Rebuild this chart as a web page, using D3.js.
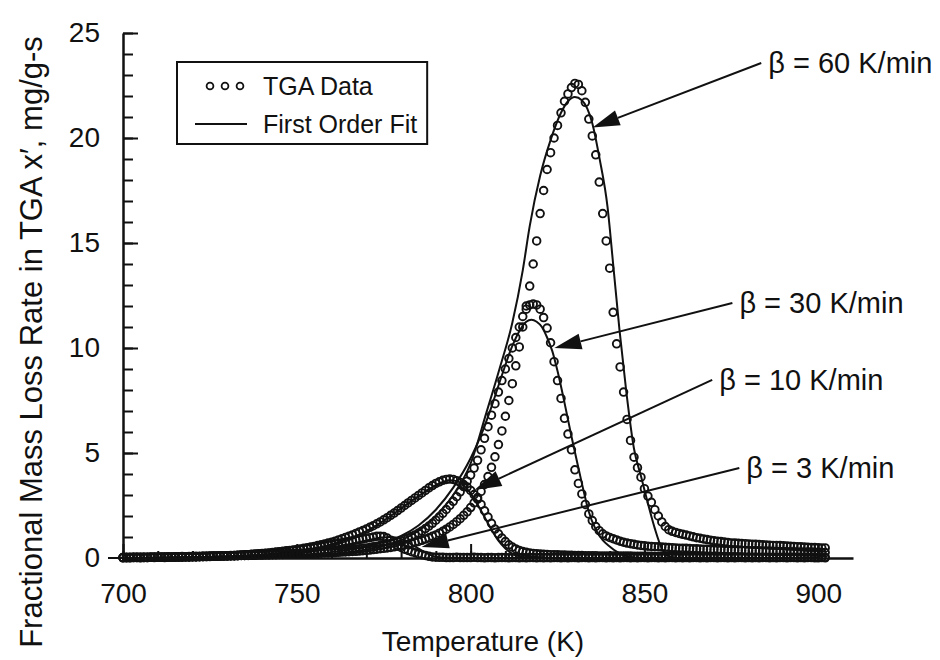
<!DOCTYPE html>
<html><head><meta charset="utf-8">
<script src="https://cdn.jsdelivr.net/npm/d3@7"></script>
<style>
body{margin:0;background:#fff}
text{font-family:"Liberation Sans",Arial,Helvetica,sans-serif;fill:#111}
</style>
</head><body>
<svg id="chart" width="940" height="660"></svg>
<script>
// ---------------- DATA ----------------
// TGA data sampled every 1 K starting at 700 K (values in mg/g-s)
const sampleStartK = 700;
const sampleStepK = 1;

const tga3 = [
0.02,0.01,0.02,0.03,0.02,0.02,0.03,0.02,0.03,0.03,
0.03,0.04,0.03,0.04,0.04,0.05,0.04,0.05,0.05,0.06,
0.06,0.06,0.07,0.07,0.08,0.08,0.09,0.09,0.1,0.1,
0.11,0.12,0.12,0.13,0.14,0.15,0.16,0.17,0.18,0.19,
0.2,0.22,0.23,0.25,0.26,0.28,0.3,0.32,0.34,0.36,
0.38,0.4,0.42,0.45,0.47,0.5,0.52,0.55,0.58,0.61,
0.64,0.67,0.7,0.73,0.76,0.79,0.82,0.85,0.88,0.91,
0.94,0.97,1.0,1.03,1.04,1.02,0.95,0.85,0.72,0.6,
0.5,0.42,0.36,0.3,0.25,0.2,0.16,0.12,0.08,0.05,
0.04,0.03,0.03,0.02,0.02,0.02,0.03,0.02,0.02,0.02,
0.02,0.03,0.02,0.02,0.01,0.02,0.02,0.01,0.02,0.02,
0.02,0.01,0.02,0.02,0.01,0.02,0.01,0.02,0.02,0.01,
0.02,0.01,0.02,0.01,0.02,0.02,0.01,0.02,0.01,0.02,
0.02,0.01,0.02,0.02,0.01,0.02,0.01,0.02,0.02,0.01,
0.02,0.01,0.02,0.01,0.02,0.02,0.01,0.02,0.01,0.02,
0.02,0.01,0.02,0.02,0.01,0.02,0.01,0.02,0.02,0.01,
0.02,0.01,0.02,0.01,0.02,0.02,0.01,0.02,0.01,0.02,
0.02,0.01,0.02,0.02,0.01,0.02,0.01,0.02,0.02,0.01,
0.02,0.01,0.02,0.01,0.02,0.02,0.01,0.02,0.01,0.02,
0.02,0.01,0.02,0.02,0.01,0.02,0.01,0.02,0.02,0.01,
0.01,0.02,0.01
];

const tga10 = [
0.01,0.02,0.01,0.02,0.02,0.01,0.02,0.02,0.03,0.02,
0.03,0.03,0.02,0.03,0.04,0.03,0.04,0.04,0.05,0.04,
0.05,0.05,0.06,0.06,0.07,0.07,0.08,0.08,0.09,0.1,
0.1,0.11,0.12,0.13,0.14,0.15,0.16,0.18,0.19,0.2,
0.21,0.23,0.24,0.26,0.28,0.3,0.32,0.34,0.36,0.38,
0.4,0.43,0.46,0.49,0.52,0.55,0.59,0.63,0.67,0.71,
0.75,0.8,0.86,0.92,0.98,1.04,1.1,1.17,1.24,1.31,
1.38,1.46,1.54,1.63,1.72,1.82,1.92,2.03,2.14,2.26,
2.38,2.5,2.62,2.74,2.86,2.98,3.1,3.22,3.34,3.45,
3.55,3.63,3.7,3.74,3.76,3.74,3.68,3.6,3.5,3.38,
3.22,3.02,2.8,2.55,2.25,1.95,1.65,1.38,1.15,0.95,
0.78,0.63,0.52,0.43,0.36,0.31,0.27,0.24,0.22,0.2,
0.19,0.18,0.17,0.16,0.15,0.15,0.14,0.14,0.13,0.13,
0.12,0.12,0.12,0.11,0.11,0.11,0.11,0.1,0.1,0.1,
0.1,0.1,0.09,0.09,0.09,0.09,0.09,0.08,0.08,0.08,
0.08,0.08,0.08,0.07,0.07,0.07,0.07,0.07,0.07,0.07,
0.06,0.06,0.06,0.06,0.06,0.06,0.06,0.06,0.05,0.05,
0.05,0.05,0.05,0.05,0.05,0.05,0.05,0.05,0.05,0.04,
0.04,0.04,0.04,0.04,0.04,0.04,0.04,0.04,0.04,0.04,
0.04,0.04,0.04,0.04,0.03,0.03,0.03,0.03,0.03,0.03,
0.03,0.03,0.03
];

const tga30 = [
0.02,0.02,0.03,0.02,0.03,0.03,0.02,0.03,0.04,0.03,
0.04,0.04,0.05,0.04,0.05,0.05,0.06,0.05,0.06,0.06,
0.07,0.06,0.07,0.08,0.07,0.08,0.09,0.08,0.09,0.1,
0.1,0.11,0.1,0.11,0.12,0.12,0.13,0.13,0.14,0.15,
0.15,0.16,0.16,0.17,0.18,0.18,0.19,0.2,0.2,0.21,
0.22,0.23,0.23,0.24,0.25,0.26,0.27,0.28,0.29,0.3,
0.31,0.32,0.33,0.35,0.36,0.38,0.4,0.42,0.44,0.46,
0.48,0.5,0.53,0.56,0.59,0.62,0.65,0.69,0.73,0.78,
0.83,0.89,0.95,1.02,1.1,1.19,1.29,1.4,1.52,1.65,
1.8,1.96,2.13,2.31,2.5,2.7,2.92,3.15,3.4,3.66,
3.95,4.28,4.65,5.15,5.7,6.25,6.8,7.35,7.9,8.45,
9.0,9.5,10.0,10.5,11.0,11.5,11.85,12.05,12.1,12.05,
11.85,11.45,10.95,10.25,9.35,8.45,7.6,6.65,5.9,5.15,
4.2,3.55,3.05,2.55,2.1,1.78,1.5,1.3,1.15,1.05,
0.98,0.92,0.86,0.8,0.75,0.71,0.68,0.65,0.62,0.6,
0.58,0.56,0.55,0.54,0.53,0.52,0.51,0.5,0.49,0.48,
0.47,0.46,0.46,0.45,0.44,0.44,0.43,0.42,0.42,0.41,
0.4,0.4,0.39,0.39,0.38,0.38,0.37,0.37,0.36,0.36,
0.35,0.35,0.34,0.34,0.33,0.33,0.33,0.32,0.32,0.31,
0.31,0.3,0.3,0.3,0.29,0.29,0.28,0.28,0.28,0.27,
0.27,0.26,0.26
];

const tga60 = [
0.02,0.03,0.02,0.03,0.03,0.04,0.03,0.04,0.04,0.05,
0.04,0.05,0.05,0.06,0.05,0.06,0.06,0.07,0.06,0.07,
0.07,0.08,0.07,0.08,0.08,0.09,0.08,0.09,0.09,0.1,
0.1,0.1,0.11,0.11,0.12,0.12,0.12,0.13,0.13,0.14,
0.14,0.15,0.15,0.16,0.16,0.17,0.17,0.18,0.18,0.19,
0.19,0.2,0.2,0.21,0.21,0.22,0.22,0.23,0.24,0.24,
0.25,0.26,0.27,0.28,0.29,0.3,0.31,0.32,0.33,0.35,
0.36,0.38,0.4,0.42,0.44,0.46,0.48,0.5,0.53,0.56,
0.59,0.62,0.66,0.7,0.74,0.79,0.84,0.9,0.96,1.03,
1.1,1.18,1.27,1.37,1.48,1.6,1.73,1.87,2.03,2.2,
2.4,2.63,2.88,3.17,3.5,3.88,4.32,4.82,5.4,6.05,
6.75,7.5,8.3,9.15,10.05,11.0,12.0,12.95,14.0,15.1,
16.4,17.5,18.5,19.3,20.0,20.6,21.2,21.75,22.1,22.4,
22.6,22.55,22.25,21.7,20.9,20.1,19.2,17.9,16.4,15.1,
13.8,11.7,10.2,9.1,7.9,6.6,5.6,4.8,4.3,3.85,
3.3,2.95,2.65,2.3,2.0,1.72,1.5,1.35,1.27,1.22,
1.17,1.13,1.09,1.05,1.01,0.97,0.94,0.91,0.88,0.85,
0.82,0.8,0.78,0.76,0.74,0.72,0.71,0.7,0.69,0.68,
0.67,0.66,0.65,0.64,0.63,0.62,0.61,0.6,0.6,0.59,
0.58,0.57,0.56,0.55,0.54,0.53,0.52,0.51,0.5,0.5,
0.49,0.48,0.48
];

// First-order fit curves: [temperature K, rate mg/g-s]
const fit3 = [[700,0],[720,0.03],[730,0.07],[740,0.14],[750,0.27],[760,0.5],[765,0.65],[770,0.83],[774,0.96],[777,1.0],[780,0.9],[782,0.74],[784,0.55],[786,0.35],[788,0.17],[790,0.06],[793,0.01],[800,0],[900,0]];
const fit10 = [[700,0],[720,0.03],[730,0.08],[740,0.16],[750,0.33],[760,0.65],[765,0.92],[770,1.28],[775,1.78],[780,2.36],[785,2.95],[789,3.38],[792,3.62],[794,3.7],[796,3.66],[798,3.45],[800,3.08],[802,2.55],[804,1.95],[806,1.35],[808,0.82],[810,0.45],[812,0.2],[815,0.05],[818,0],[900,0]];
const fit30 = [[700,0],[730,0.05],[750,0.15],[760,0.28],[770,0.55],[780,1.05],[785,1.55],[790,2.3],[795,3.35],[800,4.75],[803,5.85],[806,7.2],[809,8.7],[812,10.1],[814,10.8],[816,11.25],[817.5,11.35],[819,11.25],[820.5,11.0],[822,10.5],[823.5,9.85],[825,8.9],[827,7.4],[829,5.8],[831,4.3],[832.5,3.2],[834,2.2],[836,1.35],[838,0.85],[840,0.55],[842,0.3],[844,0.13],[847,0.03],[850,0],[900,0]];
const fit60 = [[700,0],[730,0.03],[750,0.1],[760,0.2],[770,0.4],[780,0.85],[785,1.3],[790,2.0],[795,3.0],[800,4.5],[804.5,6.9],[808.3,9.0],[812,11.2],[815,13.7],[817,15.8],[820,18.2],[823,19.9],[826,21.2],[828,21.75],[830,21.95],[832,21.8],[835,20.7],[837,19.1],[839.4,16.7],[841,14.0],[842.8,10.9],[844.8,7.9],[847,5.2],[849,3.9],[851,2.6],[853,1.4],[855,0.45],[857,0.08],[860,0],[900,0]];

const xTickValues = [700,750,800,850,900];
const yTickValues = [0,5,10,15,20,25];
const legendLabels = ["TGA Data","First Order Fit"];
const rateLabels = ["β = 60 K/min","β = 30 K/min","β = 10 K/min","β = 3 K/min"];
const xTitle = "Temperature (K)";
const yTitle = "Fractional Mass Loss Rate in TGA x\u2032, mg/g-s";

// ---------------- LAYOUT ----------------
const svg = d3.select("#chart");
svg.append("rect").attr("width",940).attr("height",660).attr("fill","#fff");
const x = d3.scaleLinear().domain([700,910]).range([123,853]);
const y = d3.scaleLinear().domain([0,25]).range([558,33]);
const ink = "#111";
const FS = 28;

// arrow annotations (tip and tail in data units)
const arrows = [
  {label: rateLabels[0], tip:[835.1,20.5], tail:[883.6,23.57]},
  {label: rateLabels[1], tip:[824.1,10.0], tail:[875.3,12.14]},
  {label: rateLabels[2], tip:[801.1,3.24], tail:[869.5,8.48]},
  {label: rateLabels[3], tip:[785.9,0.52], tail:[877.3,4.29]}
];

// fit lines
const line = d3.line().x(d=>x(d[0])).y(d=>y(d[1])).curve(d3.curveMonotoneX);
[fit3,fit10,fit30,fit60].forEach(f=>{
  svg.append("path").datum(f).attr("d",line)
    .attr("fill","none").attr("stroke",ink).attr("stroke-width",2);
});

// data circles
[tga3,tga10,tga30,tga60].forEach(s=>{
  svg.append("g").selectAll("circle").data(s).join("circle")
    .attr("cx",(d,i)=>x(sampleStartK + i*sampleStepK))
    .attr("cy",d=>y(d))
    .attr("r",3.8)
    .attr("fill","none").attr("stroke",ink).attr("stroke-width",1.9);
});

// axes
const gy = svg.append("g").attr("transform",`translate(${x(700)},0)`);
gy.call(d3.axisLeft(y).tickValues(d3.range(0,26,1)).tickSize(-10).tickFormat(""));
gy.selectAll(".tick line").attr("stroke",ink).attr("stroke-width",2);
gy.select(".domain").remove();
const gy2 = svg.append("g").attr("transform",`translate(${x(700)},0)`);
gy2.call(d3.axisLeft(y).tickValues(yTickValues).tickSizeInner(-15).tickSizeOuter(0).tickPadding(23));
gy2.select(".domain").attr("stroke",ink).attr("stroke-width",2.5);
gy2.selectAll(".tick line").attr("stroke",ink).attr("stroke-width",2);
gy2.selectAll(".tick text").attr("font-size",FS).attr("font-family",'"Liberation Sans",Arial,sans-serif').attr("fill",ink);

const gx = svg.append("g").attr("transform",`translate(0,${y(0)})`);
gx.call(d3.axisBottom(x).tickValues(d3.range(700,901,10)).tickSize(-7).tickFormat(""));
gx.selectAll(".tick line").attr("stroke",ink).attr("stroke-width",2);
gx.select(".domain").remove();
const gx2 = svg.append("g").attr("transform",`translate(0,${y(0)})`);
gx2.call(d3.axisBottom(x).tickValues(xTickValues).tickSizeInner(-14).tickSizeOuter(0).tickPadding(25).tickFormat(d3.format("d")));
gx2.select(".domain").attr("stroke",ink).attr("stroke-width",2.5);
gx2.selectAll(".tick line").attr("stroke",ink).attr("stroke-width",2);
gx2.selectAll(".tick text").attr("font-size",FS).attr("font-family",'"Liberation Sans",Arial,sans-serif').attr("fill",ink);
svg.append("line").attr("x1",x(700)-15).attr("x2",x(700)).attr("y1",y(0)).attr("y2",y(0))
  .attr("stroke",ink).attr("stroke-width",2);

// axis titles
svg.append("text").attr("x",(x(700)+x(910))/2-5).attr("y",651)
  .attr("text-anchor","middle").attr("font-size",FS).text(xTitle);
svg.append("text").attr("transform",`translate(42,342) rotate(-90)`)
  .attr("text-anchor","middle").attr("font-size",31).text(yTitle);

// legend
const LFS = 25;
const lg = svg.append("g");
const lbox = lg.append("rect").attr("x",177).attr("y",62).attr("height",82)
  .attr("fill","#fff").attr("stroke",ink).attr("stroke-width",2);
[210,225,240].forEach(cx=>lg.append("circle").attr("cx",cx).attr("cy",86).attr("r",3.4)
  .attr("fill","none").attr("stroke",ink).attr("stroke-width",1.8));
lg.append("line").attr("x1",195).attr("x2",247).attr("y1",124).attr("y2",124)
  .attr("stroke",ink).attr("stroke-width",2);
const t1 = lg.append("text").attr("x",263).attr("y",95).attr("font-size",LFS).text(legendLabels[0]);
const t2 = lg.append("text").attr("x",263).attr("y",133).attr("font-size",LFS).text(legendLabels[1]);
const wmax = Math.max(t1.node().getComputedTextLength(), t2.node().getComputedTextLength());
lbox.attr("width", 263 + wmax + 10 - 177);

// arrows
arrows.forEach(a=>{
  const x1 = x(a.tail[0]), y1 = y(a.tail[1]), x2 = x(a.tip[0]), y2 = y(a.tip[1]);
  const ang = Math.atan2(y2-y1, x2-x1);
  const L = 27, W = 8;
  const bx = x2 - L*Math.cos(ang), by = y2 - L*Math.sin(ang);
  svg.append("line").attr("x1",x1).attr("y1",y1).attr("x2",bx).attr("y2",by)
    .attr("stroke",ink).attr("stroke-width",2);
  const p = [[x2,y2],[bx + W*Math.sin(ang), by - W*Math.cos(ang)],[bx - W*Math.sin(ang), by + W*Math.cos(ang)]];
  svg.append("path").attr("d","M"+p.map(q=>q.join(",")).join("L")+"Z").attr("fill",ink);
  svg.append("text").attr("x",x1+7).attr("y",y1).attr("dy","0.35em")
    .attr("font-size",29).text(a.label);
});
</script>
</body></html>
